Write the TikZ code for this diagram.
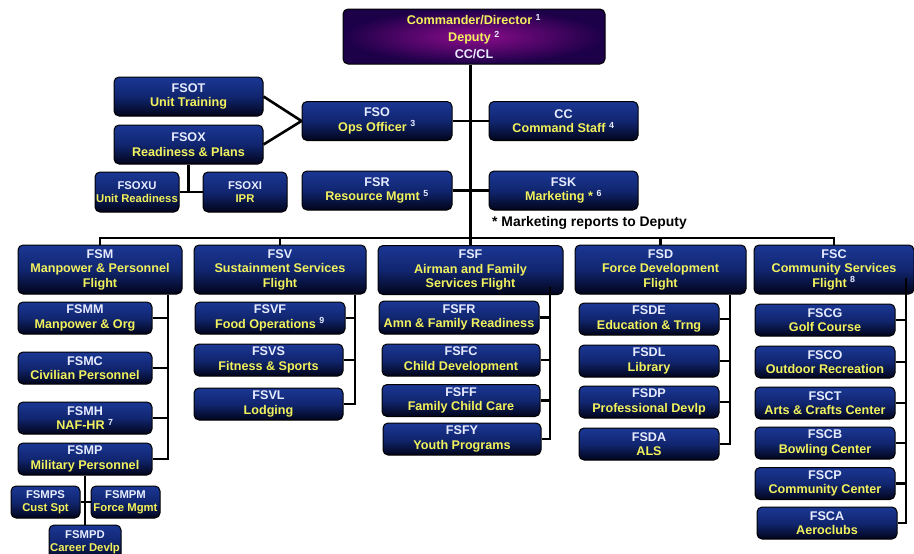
\documentclass[tikz,border=0pt]{standalone}
\usepackage{fontspec}
\setmainfont{Liberation Sans}
\usepackage{xcolor}
\usepackage{tikz}
\definecolor{boxtop}{HTML}{1B3794}
\definecolor{boxmid}{HTML}{112670}
\definecolor{boxbot}{HTML}{01041A}
\definecolor{cmdin}{HTML}{8C0C8C}
\definecolor{cmdout}{HTML}{1C0048}
\definecolor{lbl}{HTML}{F2F25C}
\definecolor{codecol}{HTML}{E8ECFF}
\newcommand\boxcode[1]{\textcolor{codecol}{#1}}
\newcommand\supnum[1]{\textsuperscript{\textcolor{codecol}{#1}}}
\tikzset{
  orgbox/.style={draw=black, line width=1pt, rounded corners=5pt, top color=boxtop, bottom color=boxbot, middle color=boxmid, text=lbl, align=center, inner sep=1pt, font=\fontsize{12.6}{14.5}\selectfont\bfseries},
  smallbox/.style={orgbox, font=\fontsize{11.3}{13}\selectfont\bfseries},
  topbox/.style={orgbox, shading=radial, inner color=cmdin, outer color=cmdout, font=\fontsize{12.6}{17}\selectfont\bfseries},
  wire/.style={draw=black, line width=2.6pt},
  note/.style={font=\fontsize{13.9}{16}\selectfont\bfseries, text=black, inner sep=0pt}
}
\begin{document}
\begin{tikzpicture}[x=1pt, y=-1pt]%
\useasboundingbox (0,0) rectangle (914,554);%
\node[topbox, minimum width=262pt, minimum height=55pt] (cmd) at (474,36.5) {Commander/Director \supnum{1}\\Deputy \supnum{2}\\\boxcode{CC/CL}};%
\node[orgbox, minimum width=149pt, minimum height=39pt] (fsot) at (188.5,96.5) {\boxcode{FSOT}\\Unit Training};%
\node[orgbox, minimum width=149pt, minimum height=39pt] (fsox) at (188.5,144.5) {\boxcode{FSOX}\\Readiness \& Plans};%
\node[smallbox, minimum width=84pt, minimum height=40pt] (fsoxu) at (137,192) {\boxcode{FSOXU}\\Unit Readiness};%
\node[smallbox, minimum width=84pt, minimum height=40pt] (fsoxi) at (245,192) {\boxcode{FSOXI}\\IPR};%
\node[orgbox, minimum width=150pt, minimum height=39pt] (fso) at (377,121) {\boxcode{FSO}\\Ops Officer \supnum{3}};%
\node[orgbox, minimum width=149pt, minimum height=39pt] (cc) at (563.5,121) {\boxcode{CC}\\Command Staff \supnum{4}};%
\node[orgbox, minimum width=150pt, minimum height=39pt] (fsr) at (377,190.5) {\boxcode{FSR}\\Resource Mgmt \supnum{5}};%
\node[orgbox, minimum width=149pt, minimum height=39pt] (fsk) at (563.5,190.5) {\boxcode{FSK}\\Marketing * \supnum{6}};%
\node[note, anchor=west] (mktnote) at (492,223) {* Marketing reports to Deputy};%
\node[orgbox, minimum width=164pt, minimum height=49pt] (fsm) at (100,269.5) {\boxcode{FSM}\\Manpower \& Personnel\\Flight};%
\node[orgbox, minimum width=172pt, minimum height=49pt] (fsv) at (280,269.5) {\boxcode{FSV}\\Sustainment Services\\Flight};%
\node[orgbox, minimum width=185pt, minimum height=49pt] (fsf) at (470.5,270) {\boxcode{FSF}\\Airman and Family\\Services Flight};%
\node[orgbox, minimum width=171pt, minimum height=49pt] (fsd) at (660.5,269.5) {\boxcode{FSD}\\Force Development\\Flight};%
\node[orgbox, minimum width=160pt, minimum height=49pt] (fsc) at (834,269.5) {\boxcode{FSC}\\Community Services\\Flight \supnum{8}};%
\node[orgbox, minimum width=134pt, minimum height=32pt] (fsmm) at (85,318) {\boxcode{FSMM}\\Manpower \& Org};%
\node[orgbox, minimum width=134pt, minimum height=32pt] (fsmc) at (85,368) {\boxcode{FSMC}\\Civilian Personnel};%
\node[orgbox, minimum width=134pt, minimum height=32pt] (fsmh) at (85,418) {\boxcode{FSMH}\\NAF-HR \supnum{7}};%
\node[orgbox, minimum width=134pt, minimum height=32pt] (fsmp) at (85,459) {\boxcode{FSMP}\\Military Personnel};%
\node[smallbox, minimum width=69pt, minimum height=32pt] (fsmps) at (45.5,502) {\boxcode{FSMPS}\\Cust Spt};%
\node[smallbox, minimum width=69pt, minimum height=32pt] (fsmpm) at (125.5,502) {\boxcode{FSMPM}\\Force Mgmt};%
\node[smallbox, minimum width=72pt, minimum height=35pt] (fsmpd) at (85,542.5) {\boxcode{FSMPD}\\Career Devlp};%
\node[orgbox, minimum width=150pt, minimum height=32pt] (fsvf) at (270,318) {\boxcode{FSVF}\\Food Operations \supnum{9}};%
\node[orgbox, minimum width=149pt, minimum height=32pt] (fsvs) at (268.5,360) {\boxcode{FSVS}\\Fitness \& Sports};%
\node[orgbox, minimum width=149pt, minimum height=32pt] (fsvl) at (268.5,404) {\boxcode{FSVL}\\Lodging};%
\node[orgbox, minimum width=160pt, minimum height=33pt] (fsfr) at (459,317.5) {\boxcode{FSFR}\\Amn \& Family Readiness};%
\node[orgbox, minimum width=158pt, minimum height=32pt] (fsfc) at (461,360) {\boxcode{FSFC}\\Child Development};%
\node[orgbox, minimum width=158pt, minimum height=32pt] (fsff) at (461,400.5) {\boxcode{FSFF}\\Family Child Care};%
\node[orgbox, minimum width=158pt, minimum height=32pt] (fsfy) at (462,439) {\boxcode{FSFY}\\Youth Programs};%
\node[orgbox, minimum width=140pt, minimum height=32pt] (fsde) at (649,319) {\boxcode{FSDE}\\Education \& Trng};%
\node[orgbox, minimum width=140pt, minimum height=32pt] (fsdl) at (649,361) {\boxcode{FSDL}\\Library};%
\node[orgbox, minimum width=140pt, minimum height=32pt] (fsdp) at (649,402) {\boxcode{FSDP}\\Professional Devlp};%
\node[orgbox, minimum width=140pt, minimum height=32pt] (fsda) at (649,444) {\boxcode{FSDA}\\ALS};%
\node[orgbox, minimum width=140pt, minimum height=32pt] (fscg) at (825,320) {\boxcode{FSCG}\\Golf Course};%
\node[orgbox, minimum width=140pt, minimum height=32pt] (fsco) at (825,362) {\boxcode{FSCO}\\Outdoor Recreation};%
\node[orgbox, minimum width=140pt, minimum height=32pt] (fsct) at (825,403) {\boxcode{FSCT}\\Arts \& Crafts Center};%
\node[orgbox, minimum width=140pt, minimum height=32pt] (fscb) at (825,443) {\boxcode{FSCB}\\Bowling Center};%
\node[orgbox, minimum width=140pt, minimum height=32pt] (fscp) at (825,483.5) {\boxcode{FSCP}\\Community Center};%
\node[orgbox, minimum width=140pt, minimum height=32pt] (fsca) at (827,523) {\boxcode{FSCA}\\Aeroclubs};%
\coordinate (busy) at (0,238);%
\draw[wire] (cmd.south -| fsf.north) -- (fsf.north);%
\draw[wire] (fsm.north) |- (fsc.north |- busy) -- (fsc.north);%
\draw[wire] (fsv.north) -- (fsv.north |- busy);%
\draw[wire] (fsd.north) -- (fsd.north |- busy);%
\draw[wire] (fso.east) -- (cc.west);%
\draw[wire] (fsr.east) -- (fsk.west);%
\draw[wire] (fsot.east) -- (fso.west);%
\draw[wire] (fsox.east) -- (fso.west);%
\draw[wire] (fsox.south) -- (fsox.south |- fsoxu.east);%
\draw[wire] (fsoxu.east) -- (fsoxi.west);%
\path (fsm.south) ++(68,0) coordinate (fsmspine);%
\draw[wire] (fsmspine) |- (fsmp.east);%
\draw[wire] (fsmm.east) -- (fsmm.east -| fsmspine);%
\draw[wire] (fsmc.east) -- (fsmc.east -| fsmspine);%
\draw[wire] (fsmh.east) -- (fsmh.east -| fsmspine);%
\draw[wire] (fsmp.south) -- (fsmpd.north);%
\draw[wire] (fsmps.east) -- (fsmpm.west);%
\path (fsv.south) ++(75,0) coordinate (fsvspine);%
\draw[wire] (fsvspine) |- (fsvl.east);%
\draw[wire] (fsvf.east) -- (fsvf.east -| fsvspine);%
\draw[wire] (fsvs.east) -- (fsvs.east -| fsvspine);%
\path (fsf.south) ++(79.5,-8) coordinate (fsfspine);%
\draw[wire] (fsfspine) |- (fsfy.east);%
\draw[wire] (fsfr.east) -- (fsfr.east -| fsfspine);%
\draw[wire] (fsfc.east) -- (fsfc.east -| fsfspine);%
\draw[wire] (fsff.east) -- (fsff.east -| fsfspine);%
\path (fsd.south) ++(69.5,0) coordinate (fsdspine);%
\draw[wire] (fsdspine) |- (fsda.east);%
\draw[wire] (fsde.east) -- (fsde.east -| fsdspine);%
\draw[wire] (fsdl.east) -- (fsdl.east -| fsdspine);%
\draw[wire] (fsdp.east) -- (fsdp.east -| fsdspine);%
\path (fsc.south) ++(72,-17) coordinate (fscspine);%
\draw[wire] (fscspine) |- (fsca.east);%
\draw[wire] (fscg.east) -- (fscg.east -| fscspine);%
\draw[wire] (fsco.east) -- (fsco.east -| fscspine);%
\draw[wire] (fsct.east) -- (fsct.east -| fscspine);%
\draw[wire] (fscb.east) -- (fscb.east -| fscspine);%
\draw[wire] (fscp.east) -- (fscp.east -| fscspine);%
\end{tikzpicture}
\end{document}
